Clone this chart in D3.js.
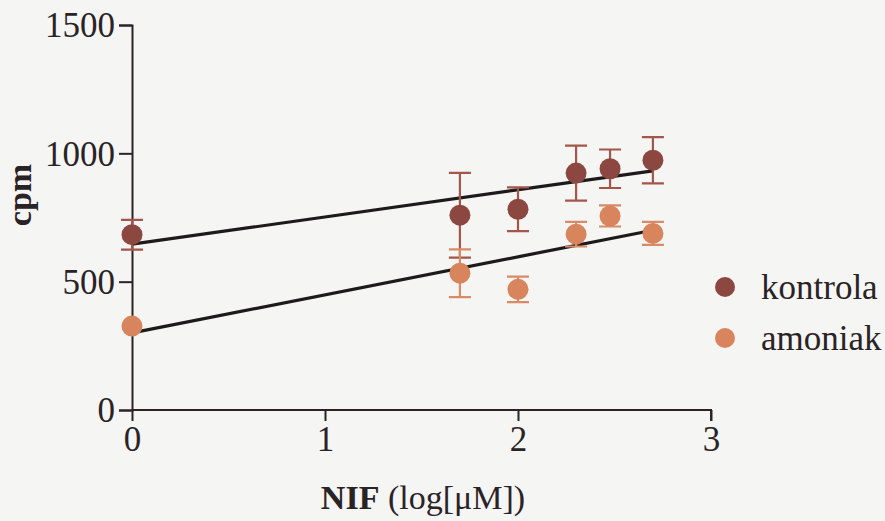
<!DOCTYPE html>
<html>
<head>
<meta charset="utf-8">
<script src="https://cdn.jsdelivr.net/npm/d3@7"></script>
<style>
  body { margin: 0; background: #f5f5f3; }
  svg { display: block; }
  svg text { font-family: "Liberation Serif", "DejaVu Serif", serif; }
</style>
</head>
<body>
<div id="chart"></div>
<script>
// NIF concentrations (log uM) and cpm readings
var xValues = [0, 1.699, 2, 2.301, 2.477, 2.699]
var kontrolaY = [683, 759, 782, 923, 940, 973]
var kontrolaErr = [58, 165, 85, 107, 75, 90]
var amoniakY = [327, 533, 470, 685, 756, 688]
var amoniakErr = [0, 93, 50, 48, 41, 45]
var seriesNames = ['kontrola', 'amoniak']
var xTicks = [0, 1, 2, 3]
var yTicks = [0, 500, 1000, 1500]

var width = 885, height = 521
var ink = '#2a2326'

var colors = { kontrola: '#8c4840', amoniak: '#d8855e' }
var barColors = { kontrola: '#a3564c', amoniak: '#d98b67' }

var svg = d3.select('#chart')
  .append('svg')
  .attr('width', width)
  .attr('height', height)

var x = d3.scaleLinear().domain([0, 3]).range([132, 711])
var y = d3.scaleLinear().domain([0, 1500]).range([410, 25])

var series = [
  { name: 'kontrola', ys: kontrolaY, errs: kontrolaErr },
  { name: 'amoniak', ys: amoniakY, errs: amoniakErr }
]

// least squares fit for each series
function fit(xs, ys) {
  var mx = d3.mean(xs), my = d3.mean(ys)
  var sxy = 0, sxx = 0
  xs.forEach(function (v, i) {
    sxy += (v - mx) * (ys[i] - my)
    sxx += (v - mx) * (v - mx)
  })
  var b = sxy / sxx
  return { slope: b, icpt: my - b * mx }
}

// axes
var xAxis = svg.append('g')
  .attr('transform', 'translate(0,' + y(0) + ')')
  .call(d3.axisBottom(x).tickValues(xTicks).tickSize(11).tickPadding(5).tickFormat(d3.format('d')))
var yAxis = svg.append('g')
  .attr('transform', 'translate(' + x(0) + ',0)')
  .call(d3.axisLeft(y).tickValues(yTicks).tickSize(13).tickPadding(4).tickFormat(d3.format('d')))

;[xAxis, yAxis].forEach(function (g) {
  g.attr('font-family', null)
  g.select('.domain').attr('stroke', ink).attr('stroke-width', 2)
  g.selectAll('.tick line').attr('stroke', ink).attr('stroke-width', 2)
  g.selectAll('.tick text')
    .attr('fill', ink)
    .style('font-size', '35px')
})
xAxis.selectAll('.domain').attr('d', 'M' + x(0) + ',0H' + x(3) + 'V11')
yAxis.selectAll('.tick text').attr('dy', '0.34em')

// regression lines
series.forEach(function (s) {
  var f = fit(xValues, s.ys)
  var x0 = d3.min(xValues), x1 = d3.max(xValues)
  svg.append('line')
    .attr('x1', x(x0)).attr('y1', y(f.icpt + f.slope * x0))
    .attr('x2', x(x1)).attr('y2', y(f.icpt + f.slope * x1))
    .attr('stroke', '#1c1a1a')
    .attr('stroke-width', 3.2)
})

// error bars and points
series.forEach(function (s) {
  var g = svg.append('g')
  xValues.forEach(function (xv, i) {
    var e = s.errs[i]
    if (e > 0) {
      var cx = x(xv)
      g.append('path')
        .attr('d', 'M' + cx + ',' + y(s.ys[i] + e) + 'V' + y(s.ys[i] - e) +
          'M' + (cx - 11) + ',' + y(s.ys[i] + e) + 'H' + (cx + 11) +
          'M' + (cx - 11) + ',' + y(s.ys[i] - e) + 'H' + (cx + 11))
        .attr('fill', 'none')
        .attr('stroke', barColors[s.name])
        .attr('stroke-width', 2.2)
    }
  })
  g.selectAll('circle')
    .data(s.ys)
    .enter()
    .append('circle')
    .attr('cx', function (d, i) { return x(xValues[i]) })
    .attr('cy', function (d) { return y(d) })
    .attr('r', 10.5)
    .attr('fill', colors[s.name])
})

// legend
seriesNames.forEach(function (name, i) {
  var ly = 287 + i * 51
  svg.append('circle')
    .attr('cx', 725).attr('cy', ly).attr('r', 10)
    .attr('fill', colors[name])
  svg.append('text')
    .attr('x', 761).attr('y', ly)
    .attr('dy', '0.33em')
    .style('font-size', '35px')
    .attr('fill', ink)
    .text(name)
})

// axis titles
var xt = svg.append('text')
  .attr('x', 423).attr('y', 509)
  .attr('text-anchor', 'middle')
  .style('font-size', '34px')
  .attr('fill', ink)
xt.append('tspan').style('font-weight', 'bold').text('NIF')
xt.append('tspan').text(' (log[μM])')

svg.append('text')
  .attr('transform', 'translate(31,195) rotate(-90)')
  .attr('text-anchor', 'middle')
  .style('font-size', '34px')
  .style('font-weight', 'bold')
  .attr('fill', ink)
  .text('cpm')
</script>
</body>
</html>
